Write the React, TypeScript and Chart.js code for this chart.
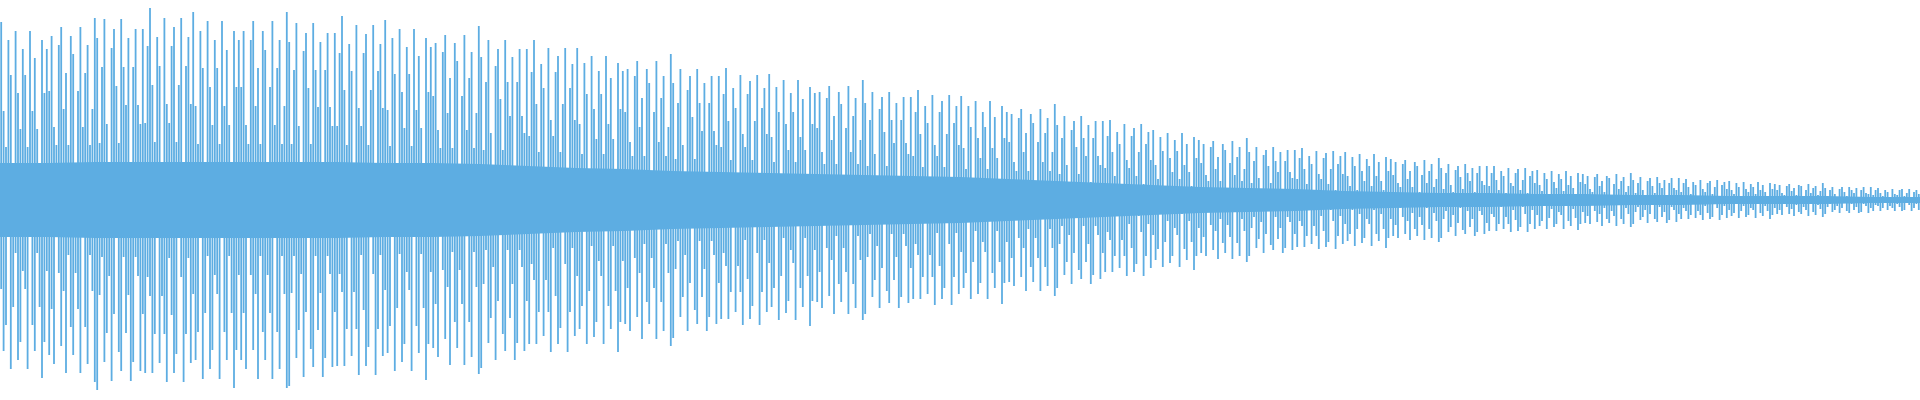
import { useEffect, useRef } from "react";
import { Chart, registerables } from "chart.js";

Chart.register(...registerables);

// Positive peak of each column stroke (amplitude units, full scale = 200)
const upperPeaks = [
  178, 89, 53, 160, 125, 36, 169, 107, 71, 151, 125, 53, 169, 89, 142, 71, 36, 160, 107, 151,
  109, 164, 73, 55, 155, 173, 91, 127, 55, 164, 146, 36, 109, 173, 73, 127, 155, 55, 91, 182,
  162, 57, 133, 181, 76, 38, 152, 171, 114, 57, 181, 133, 95, 162, 38, 133, 171, 95, 76, 171,
  77, 154, 192, 115, 58, 163, 134, 38, 182, 96, 77, 154, 173, 58, 115, 182, 38, 134, 163, 96,
  188, 94, 56, 169, 132, 38, 179, 113, 75, 160, 132, 56, 179, 94, 150, 75, 38, 169, 113, 160,
  113, 169, 75, 56, 160, 179, 94, 132, 56, 169, 150, 38, 113, 179, 75, 132, 160, 56, 94, 188,
  158, 56, 130, 177, 74, 37, 149, 167, 112, 56, 177, 130, 93, 158, 37, 130, 167, 93, 74, 167,
  74, 147, 184, 110, 55, 156, 129, 37, 175, 92, 74, 147, 166, 55, 110, 175, 37, 129, 156, 92,
  180, 90, 54, 162, 126, 36, 171, 108, 72, 153, 126, 54, 171, 90, 144, 72, 36, 162, 108, 153,
  104, 157, 70, 52, 148, 165, 87, 122, 52, 157, 139, 35, 104, 165, 70, 122, 148, 52, 87, 174,
  143, 50, 118, 160, 67, 34, 134, 151, 101, 50, 160, 118, 84, 143, 34, 118, 151, 84, 67, 151,
  64, 128, 160, 96, 48, 136, 112, 32, 152, 80, 64, 128, 144, 48, 96, 152, 32, 112, 136, 80,
  152, 76, 46, 137, 106, 30, 144, 91, 61, 129, 106, 46, 144, 76, 122, 61, 30, 137, 91, 129,
  88, 131, 58, 44, 124, 139, 73, 102, 44, 131, 117, 29, 88, 139, 58, 102, 124, 44, 73, 146,
  117, 41, 97, 131, 55, 28, 110, 124, 83, 41, 131, 97, 69, 117, 28, 97, 124, 69, 55, 124,
  53, 106, 132, 79, 40, 112, 92, 26, 125, 66, 53, 106, 119, 40, 79, 125, 26, 92, 112, 66,
  126, 63, 38, 113, 88, 25, 120, 76, 50, 107, 88, 38, 120, 63, 101, 50, 25, 113, 76, 107,
  72, 108, 48, 36, 102, 114, 60, 84, 36, 108, 96, 24, 72, 114, 48, 84, 102, 36, 60, 120,
  97, 34, 80, 108, 46, 23, 91, 103, 68, 34, 108, 80, 57, 97, 23, 80, 103, 57, 46, 103,
  44, 88, 110, 66, 33, 94, 77, 22, 105, 55, 44, 88, 99, 33, 66, 105, 22, 77, 94, 55,
  104, 52, 31, 94, 73, 21, 99, 62, 42, 88, 73, 31, 99, 52, 83, 42, 21, 94, 62, 88,
  58, 86, 38, 29, 82, 91, 48, 67, 29, 86, 77, 19, 58, 91, 38, 67, 82, 29, 48, 96,
  75, 26, 62, 84, 35, 18, 70, 79, 53, 26, 84, 62, 44, 75, 18, 62, 79, 44, 35, 79,
  32, 64, 80, 48, 24, 68, 56, 16, 76, 40, 32, 64, 72, 24, 48, 76, 16, 56, 68, 40,
  70, 35, 21, 63, 49, 14, 67, 42, 28, 60, 49, 21, 67, 35, 56, 28, 14, 63, 42, 60,
  37, 56, 25, 19, 53, 59, 31, 43, 19, 56, 50, 12, 37, 59, 25, 43, 53, 19, 31, 62,
  48, 17, 39, 53, 22, 11, 45, 50, 34, 17, 53, 39, 28, 48, 11, 39, 50, 28, 22, 50,
  21, 42, 52, 31, 16, 44, 36, 10, 49, 26, 21, 42, 47, 16, 31, 49, 10, 36, 44, 26,
  48, 24, 14, 43, 34, 10, 46, 29, 19, 41, 34, 14, 46, 24, 38, 19, 10, 43, 29, 41,
  25, 38, 17, 13, 36, 40, 21, 29, 13, 38, 34, 8, 25, 40, 17, 29, 36, 13, 21, 42,
  32, 11, 27, 36, 15, 8, 30, 34, 23, 11, 36, 27, 19, 32, 8, 27, 34, 19, 15, 34,
  14, 27, 34, 20, 10, 29, 24, 7, 32, 17, 14, 27, 31, 10, 20, 32, 7, 24, 29, 17,
  30, 15, 9, 27, 21, 6, 29, 18, 12, 26, 21, 9, 29, 15, 24, 12, 6, 27, 18, 26,
  16, 24, 11, 8, 23, 26, 14, 19, 8, 24, 22, 5, 16, 26, 11, 19, 23, 8, 14, 27,
  20, 7, 17, 23, 10, 5, 19, 22, 14, 7, 23, 17, 12, 20, 5, 17, 22, 12, 10, 22,
  8, 17, 21, 13, 6, 18, 15, 4, 20, 11, 8, 17, 19, 6, 13, 20, 4, 15, 18, 11,
  19, 10, 6, 17, 13, 4, 18, 11, 8, 16, 13, 6, 18, 10, 15, 8, 4, 17, 11, 16,
  10, 15, 7, 5, 14, 16, 9, 12, 5, 15, 14, 3, 10, 16, 7, 12, 14, 5, 9, 17,
  12, 4, 10, 13, 6, 3, 11, 13, 8, 4, 13, 10, 7, 12, 3, 10, 13, 7, 6, 13,
  5, 10, 12, 7, 4, 10, 8, 2, 11, 6, 5, 10, 11, 4, 7, 11, 2, 8, 10, 6,
];

// Negative peak of each column stroke
const lowerPeaks = [
  -89, -151, -125, -36, -169, -107, -53, -160, -142, -71, -89, -169, -36, -125, -151, -53, -107, -178, -142, -71,
  -155, -109, -164, -36, -73, -146, -91, -173, -55, -127, -155, -73, -109, -173, -36, -127, -164, -55, -91, -182,
  -190, -95, -57, -162, -133, -76, -181, -114, -38, -152, -171, -57, -133, -95, -181, -162, -57, -76, -171, -114,
  -173, -77, -96, -173, -134, -38, -163, -96, -134, -182, -58, -115, -173, -154, -38, -77, -182, -134, -58, -163,
  -94, -160, -132, -38, -179, -113, -56, -169, -150, -75, -94, -179, -38, -132, -160, -56, -113, -188, -150, -75,
  -160, -113, -169, -38, -75, -150, -94, -179, -56, -132, -160, -75, -113, -179, -38, -132, -169, -56, -94, -188,
  -186, -93, -56, -158, -130, -74, -177, -112, -37, -149, -167, -56, -130, -93, -177, -158, -56, -74, -167, -112,
  -166, -74, -92, -166, -129, -37, -156, -92, -129, -175, -55, -110, -166, -147, -37, -74, -175, -129, -55, -156,
  -90, -153, -126, -36, -171, -108, -54, -162, -144, -72, -90, -171, -36, -126, -153, -54, -108, -180, -144, -72,
  -148, -104, -157, -35, -70, -139, -87, -165, -52, -122, -148, -70, -104, -165, -35, -122, -157, -52, -87, -174,
  -168, -84, -50, -143, -118, -67, -160, -101, -34, -134, -151, -50, -118, -84, -160, -143, -50, -67, -151, -101,
  -144, -64, -80, -144, -112, -32, -136, -80, -112, -152, -48, -96, -144, -128, -32, -64, -152, -112, -48, -136,
  -76, -129, -106, -30, -144, -91, -46, -137, -122, -61, -76, -144, -30, -106, -129, -46, -91, -152, -122, -61,
  -124, -88, -131, -29, -58, -117, -73, -139, -44, -102, -124, -58, -88, -139, -29, -102, -131, -44, -73, -146,
  -138, -69, -41, -117, -97, -55, -131, -83, -28, -110, -124, -41, -97, -69, -131, -117, -41, -55, -124, -83,
  -119, -53, -66, -119, -92, -26, -112, -66, -92, -125, -40, -79, -119, -106, -26, -53, -125, -92, -40, -112,
  -63, -107, -88, -25, -120, -76, -38, -113, -101, -50, -63, -120, -25, -88, -107, -38, -76, -126, -101, -50,
  -102, -72, -108, -24, -48, -96, -60, -114, -36, -84, -102, -48, -72, -114, -24, -84, -108, -36, -60, -120,
  -114, -57, -34, -97, -80, -46, -108, -68, -23, -91, -103, -34, -80, -57, -108, -97, -34, -46, -103, -68,
  -99, -44, -55, -99, -77, -22, -94, -55, -77, -105, -33, -66, -99, -88, -22, -44, -105, -77, -33, -94,
  -52, -88, -73, -21, -99, -62, -31, -94, -83, -42, -52, -99, -21, -73, -88, -31, -62, -104, -83, -42,
  -82, -58, -86, -19, -38, -77, -48, -91, -29, -67, -82, -38, -58, -91, -19, -67, -86, -29, -48, -96,
  -88, -44, -26, -75, -62, -35, -84, -53, -18, -70, -79, -26, -62, -44, -84, -75, -26, -35, -79, -53,
  -72, -32, -40, -72, -56, -16, -68, -40, -56, -76, -24, -48, -72, -64, -16, -32, -76, -56, -24, -68,
  -35, -60, -49, -14, -67, -42, -21, -63, -56, -28, -35, -67, -14, -49, -60, -21, -42, -70, -56, -28,
  -53, -37, -56, -12, -25, -50, -31, -59, -19, -43, -53, -25, -37, -59, -12, -43, -56, -19, -31, -62,
  -56, -28, -17, -48, -39, -22, -53, -34, -11, -45, -50, -17, -39, -28, -53, -48, -17, -22, -50, -34,
  -47, -21, -26, -47, -36, -10, -44, -26, -36, -49, -16, -31, -47, -42, -10, -21, -49, -36, -16, -44,
  -24, -41, -34, -10, -46, -29, -14, -43, -38, -19, -24, -46, -10, -34, -41, -14, -29, -48, -38, -19,
  -36, -25, -38, -8, -17, -34, -21, -40, -13, -29, -36, -17, -25, -40, -8, -29, -38, -13, -21, -42,
  -38, -19, -11, -32, -27, -15, -36, -23, -8, -30, -34, -11, -27, -19, -36, -32, -11, -15, -34, -23,
  -31, -14, -17, -31, -24, -7, -29, -17, -24, -32, -10, -20, -31, -27, -7, -14, -32, -24, -10, -29,
  -15, -26, -21, -6, -29, -18, -9, -27, -24, -12, -15, -29, -6, -21, -26, -9, -18, -30, -24, -12,
  -23, -16, -24, -5, -11, -22, -14, -26, -8, -19, -23, -11, -16, -26, -5, -19, -24, -8, -14, -27,
  -24, -12, -7, -20, -17, -10, -23, -14, -5, -19, -22, -7, -17, -12, -23, -20, -7, -10, -22, -14,
  -19, -8, -11, -19, -15, -4, -18, -11, -15, -20, -6, -13, -19, -17, -4, -8, -20, -15, -6, -18,
  -10, -16, -13, -4, -18, -11, -6, -17, -15, -8, -10, -18, -4, -13, -16, -6, -11, -19, -15, -8,
  -14, -10, -15, -3, -7, -14, -9, -16, -5, -12, -14, -7, -10, -16, -3, -12, -15, -5, -9, -17,
  -14, -7, -4, -12, -10, -6, -13, -8, -3, -11, -13, -4, -10, -7, -13, -12, -4, -6, -13, -8,
  -11, -5, -6, -11, -8, -2, -10, -6, -8, -11, -4, -7, -11, -10, -2, -5, -11, -8, -4, -10,
];

// Dense core band of the waveform, sampled every 20 columns
const bandColumn = [
  0, 20, 40, 60, 80, 100, 120, 140, 160, 180, 200, 220, 240, 260, 280, 300, 320, 340, 360, 380,
  400, 420, 440, 460, 480, 500, 520, 540, 560, 580, 600, 620, 640, 660, 680, 700, 720, 740, 760, 780, 800,
];
const bandUpper = [
  37, 37, 38, 38, 38, 38, 38, 38, 37, 37, 36, 34, 32, 31, 29, 28, 27, 26, 25, 24,
  23, 21, 19, 17, 15, 13, 12, 11, 9, 8, 7, 7, 6, 6, 5, 5, 4, 4, 4, 3, 3,
];
const bandLower = [
  -37, -37, -38, -38, -38, -38, -38, -38, -37, -37, -36, -34, -32, -31, -29, -28, -27, -26, -25, -24,
  -23, -21, -19, -17, -15, -13, -12, -11, -9, -8, -7, -7, -6, -6, -5, -5, -4, -4, -4, -3, -3,
];

const AMPLITUDE_MIN = -200;
const AMPLITUDE_MAX = 200;
const COLOR = "#5DADE2";

export default function App() {
  const ref = useRef<HTMLCanvasElement | null>(null);

  useEffect(() => {
    if (!ref.current) return;
    const strokes = upperPeaks.map((v, i) => ({ x: i, y: [lowerPeaks[i], v] }));
    const bandTop = bandColumn.map((c, i) => ({ x: c - 0.5, y: bandUpper[i] }));
    const bandBottom = bandColumn.map((c, i) => ({ x: c - 0.5, y: bandLower[i] }));
    const chart = new Chart(ref.current, {
      type: "bar",
      data: {
        datasets: [
          {
            type: "line",
            data: bandTop,
            borderWidth: 0,
            borderColor: COLOR,
            backgroundColor: COLOR,
            pointRadius: 0,
            fill: 1,
            tension: 0,
          } as any,
          {
            type: "line",
            data: bandBottom,
            borderWidth: 0,
            borderColor: COLOR,
            backgroundColor: COLOR,
            pointRadius: 0,
            fill: false,
            tension: 0,
          } as any,
          {
            type: "bar",
            data: strokes,
            backgroundColor: COLOR,
            borderWidth: 0,
            barPercentage: 0.75,
            categoryPercentage: 1,
            grouped: false,
          } as any,
        ],
      },
      options: {
        animation: false,
        responsive: true,
        maintainAspectRatio: false,
        events: [],
        layout: { padding: 0 },
        plugins: { legend: { display: false }, tooltip: { enabled: false } },
        scales: {
          x: { type: "linear", display: false, min: -0.5, max: upperPeaks.length - 0.5, offset: false },
          y: { display: false, min: AMPLITUDE_MIN, max: AMPLITUDE_MAX },
        },
      },
    });
    return () => chart.destroy();
  }, []);

  return (
    <div style={{ position: "absolute", left: 0, top: 0, width: 1920, height: 400 }}>
      <canvas ref={ref} />
    </div>
  );
}
